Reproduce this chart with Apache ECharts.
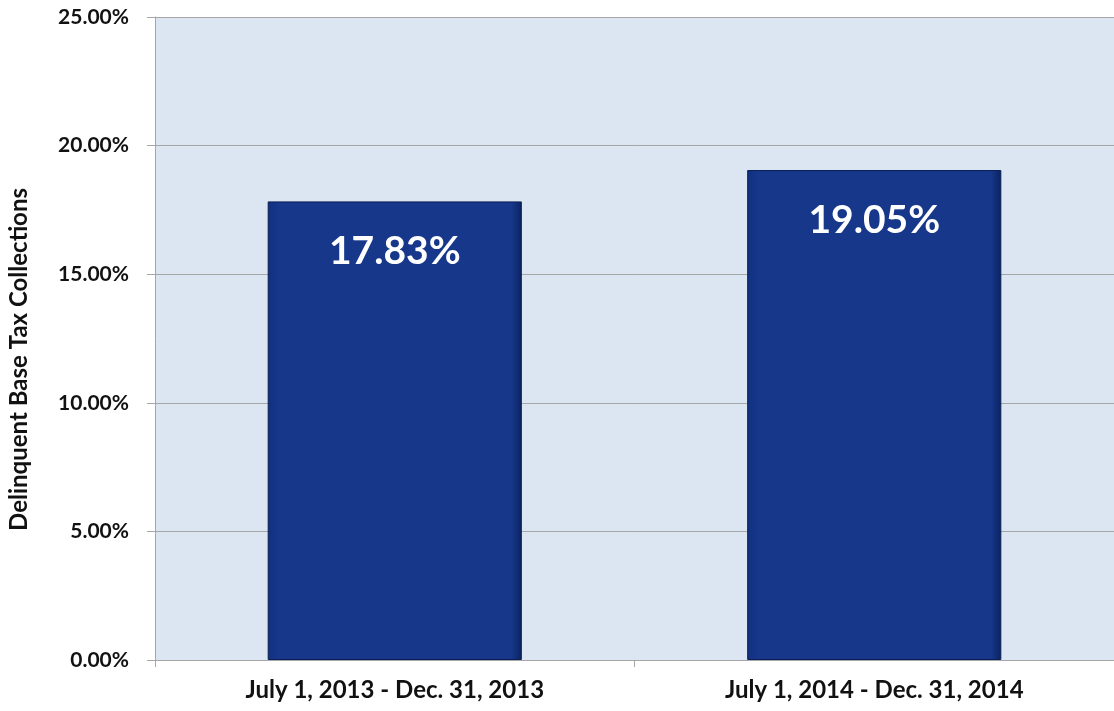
<!DOCTYPE html>
<html>
<head>
<meta charset="utf-8">
<script src="https://cdn.jsdelivr.net/npm/echarts@6/dist/echarts.min.js"></script>
<style>
	html, body { margin: 0; padding: 0; background: #fff; }
	#chart { width: 1114px; height: 711px; }
</style>
</head>
<body>
<div id="chart"></div>
<script>
var periods = ['July 1, 2013 - Dec. 31, 2013', 'July 1, 2014 - Dec. 31, 2014'];
var collections = [17.83, 19.05];

function drawChart(ele) {
	var myChart = echarts.init(ele);
	var font = 'Lato, "Open Sans", sans-serif';
	var option = {
		animation: false,
		grid: {
			left: 155,
			right: 0,
			top: 17,
			bottom: 51,
			outerBoundsMode: 'none',
			containLabel: false,
			show: true,
			backgroundColor: '#DCE6F2',
			borderWidth: 0
		},
		xAxis: {
			type: 'category',
			data: periods,
			axisLine: {lineStyle: {color: '#A6A6A6', width: 1}},
			axisTick: {show: true, alignWithLabel: false, length: 7, lineStyle: {color: '#A6A6A6'}},
			axisLabel: {
				color: '#111',
				fontFamily: font,
				fontWeight: 'bold',
				fontSize: 24,
				margin: 18
			}
		},
		yAxis: {
			type: 'value',
			min: 0,
			max: 25,
			interval: 5,
			name: 'Delinquent Base Tax Collections',
			nameLocation: 'middle',
			nameGap: 124,
			nameTextStyle: {
				color: '#111',
				fontFamily: font,
				fontWeight: 'bold',
				fontSize: 24,
				padding: [0, 42, 0, 0]
			},
			axisLine: {show: true, lineStyle: {color: '#A6A6A6', width: 1}},
			axisTick: {show: true, length: 8, lineStyle: {color: '#A6A6A6'}},
			splitLine: {show: true, lineStyle: {color: '#A6A6A6', width: 1}},
			axisLabel: {
				color: '#111',
				fontFamily: font,
				fontWeight: 'bold',
				fontSize: 21,
				margin: 26,
				formatter: function (v) { return v.toFixed(2) + '%'; }
			}
		},
		series: [
			{
				type: 'bar',
				data: collections,
				barWidth: '53%',
				itemStyle: {
					color: {
						type: 'linear', x: 0, y: 0, x2: 1, y2: 0,
						colorStops: [
							{offset: 0, color: '#10307E'},
							{offset: 0.04, color: '#16378A'},
							{offset: 0.96, color: '#16378A'},
							{offset: 1, color: '#0B2260'}
						]
					},
					borderColor: '#0A1E55',
					borderWidth: 1
				},
				label: {
					show: true,
					position: 'insideTop',
					distance: 31,
					color: '#fff',
					fontFamily: font,
					fontWeight: 'bold',
					fontSize: 39,
					formatter: function (p) { return p.value.toFixed(2) + '%'; }
				}
			}
		]
	};
	myChart.setOption(option);
}

drawChart(document.getElementById('chart'));
</script>
</body>
</html>
